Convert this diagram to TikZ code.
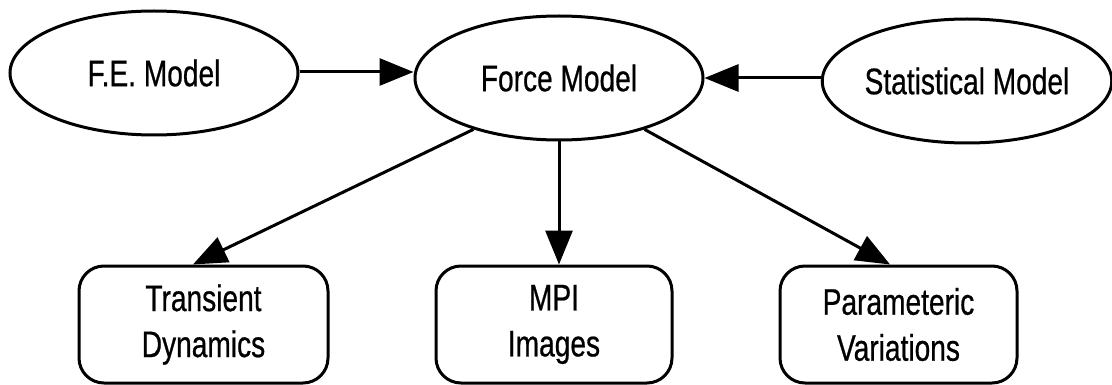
\documentclass[tikz,border=0pt]{standalone}
\usepackage{fontspec}
\setmainfont[FakeStretch=0.76,FakeBold=0.6]{Liberation Sans}
\usetikzlibrary{arrows.meta,shapes.geometric}

\begin{document}
\begin{tikzpicture}[x=1pt,y=-1pt,
  every node/.style={font=\fontsize{37}{46}\selectfont},
  model/.style={ellipse,draw,line width=3pt,minimum width=288pt,minimum height=124pt,inner sep=0pt},
  result/.style={draw,line width=3pt,rounded corners=25pt,minimum height=117pt,inner sep=0pt,align=center},
  link/.style={line width=3pt,-{Triangle[length=34pt,width=27pt]}}
]
\useasboundingbox (0,0) rectangle (1112,385);

% source models and the central force model
\node[model] (fe)    at (154,73)  {F.E. Model};
\node[model] (force) at (559,78)  {Force Model};
\node[model] (stat)  at (967,81)  {Statistical Model};

% outputs of the force model
\node[result,minimum width=249pt] (trans) at (203.5,324.5) {Transient\\Dynamics};
\node[result,minimum width=236pt] (mpi)   at (554,324.5)   {MPI\\Images};
\node[result,minimum width=237pt] (param) at (898.5,324.5) {Parameteric\\Variations};

% inputs
\draw[link] (fe.east |- 0,72) -- (force.west |- 0,72);
\draw[link] (stat.west |- 0,78) -- (force.east |- 0,78);

% outputs
\draw[link] (force.211) -- (trans.100);
\draw[link] (force.south) -- (force.south |- mpi.north);
\draw[link] (force.-31) -- (param.98);
\end{tikzpicture}
\end{document}
